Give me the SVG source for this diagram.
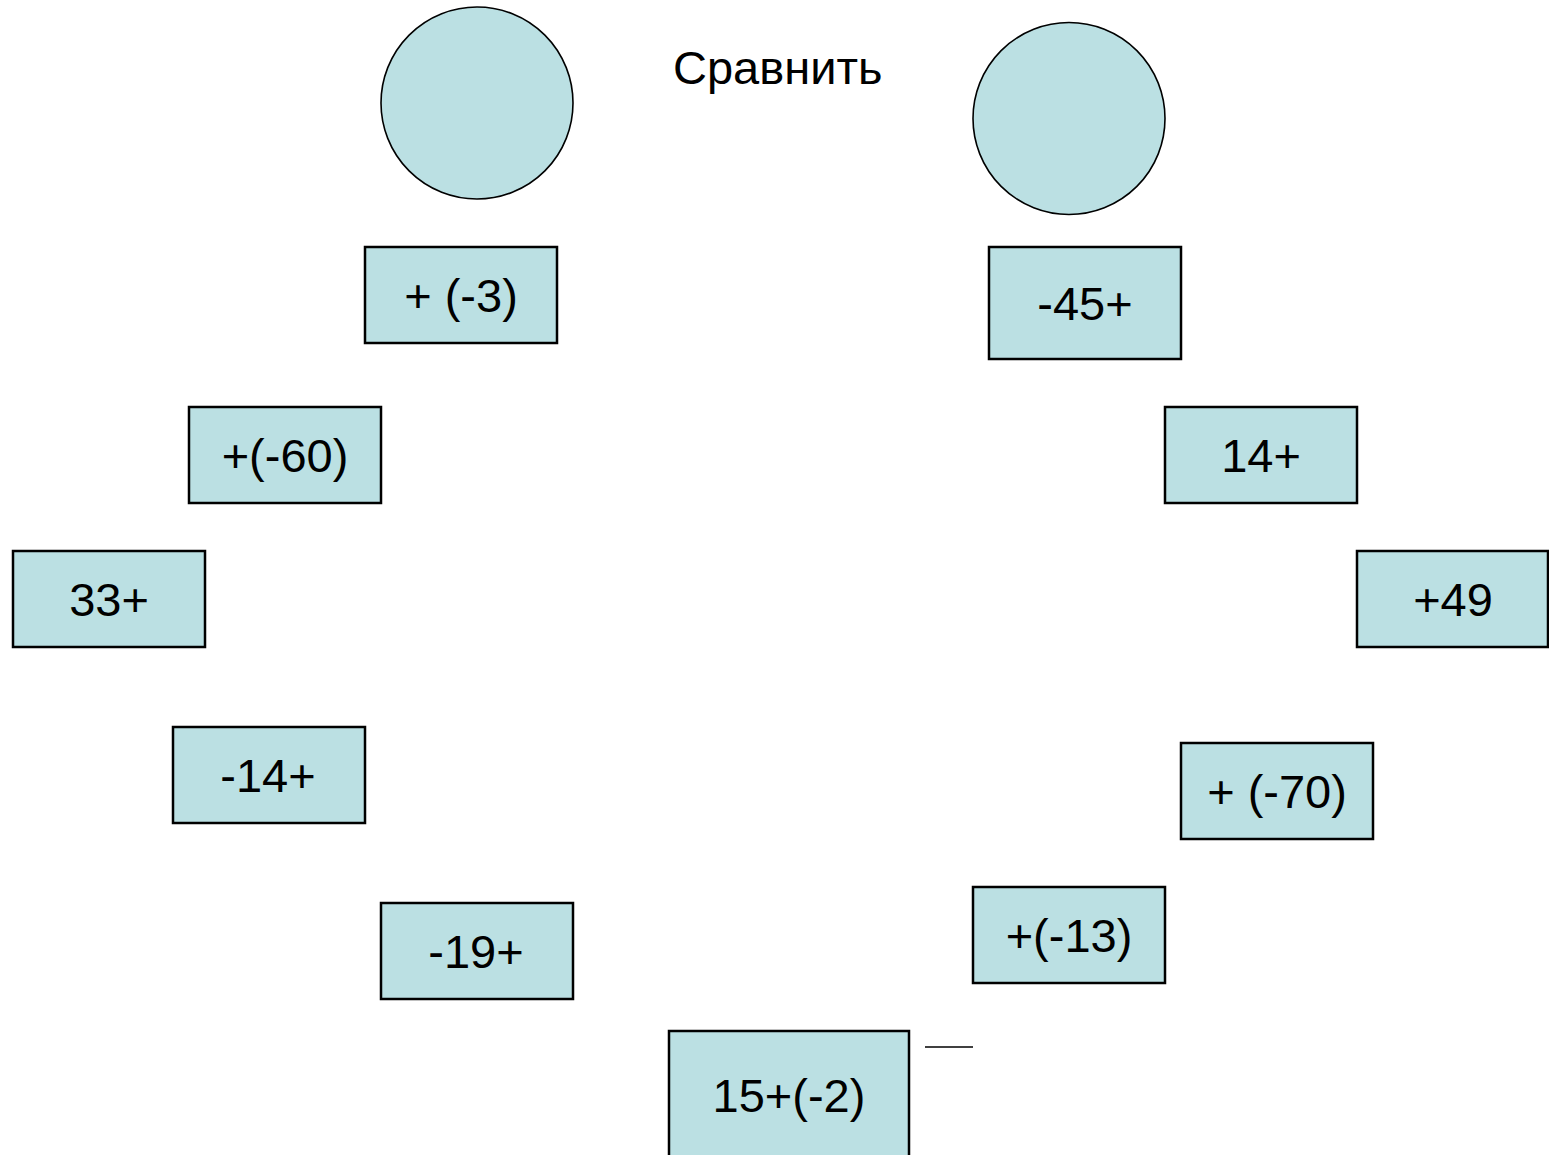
<svg xmlns="http://www.w3.org/2000/svg" width="1549" height="1155" viewBox="0 0 1549 1155">
<style>
.b{fill:#BBE0E3;stroke:#000;stroke-width:2.5}
.c{fill:#BBE0E3;stroke:#000;stroke-width:1.6}
.t{font-family:"Liberation Sans",Arial,sans-serif;font-size:47px;fill:#000;text-anchor:middle}
</style>
<rect width="1549" height="1155" fill="#fff"/>
<g id="title"><text class="t" x="673" y="84" style="text-anchor:start">Сравнить</text></g>
<g id="circle-left"><circle class="c" cx="477" cy="103" r="96"/></g>
<g id="circle-right"><circle class="c" cx="1069" cy="118.5" r="96"/></g>
<g id="n-m3"><rect class="b" x="365" y="247" width="192" height="96"/><text class="t" x="461" y="312">+ (-3)</text></g>
<g id="n-m60"><rect class="b" x="189" y="407" width="192" height="96"/><text class="t" x="285" y="472">+(-60)</text></g>
<g id="n-33"><rect class="b" x="13" y="551" width="192" height="96"/><text class="t" x="109" y="616">33+</text></g>
<g id="n-m14"><rect class="b" x="173" y="727" width="192" height="96"/><text class="t" x="268" y="792">-14+</text></g>
<g id="n-m19"><rect class="b" x="381" y="903" width="192" height="96"/><text class="t" x="476" y="968">-19+</text></g>
<g id="n-15"><rect class="b" x="669" y="1031" width="240" height="140"/><text class="t" x="789" y="1112">15+(-2)</text></g>
<g id="n-m45"><rect class="b" x="989" y="247" width="192" height="112"/><text class="t" x="1085" y="320">-45+</text></g>
<g id="n-14"><rect class="b" x="1165" y="407" width="192" height="96"/><text class="t" x="1261" y="472">14+</text></g>
<g id="n-49"><rect class="b" x="1357" y="551" width="191" height="96"/><text class="t" x="1453" y="616">+49</text></g>
<g id="n-m70"><rect class="b" x="1181" y="743" width="192" height="96"/><text class="t" x="1277" y="808">+ (-70)</text></g>
<g id="n-m13"><rect class="b" x="973" y="887" width="192" height="96"/><text class="t" x="1069" y="952">+(-13)</text></g>
<g id="connectors"><line x1="925" y1="1047" x2="973" y2="1047" stroke="#000" stroke-width="1.6"/></g>
</svg>
